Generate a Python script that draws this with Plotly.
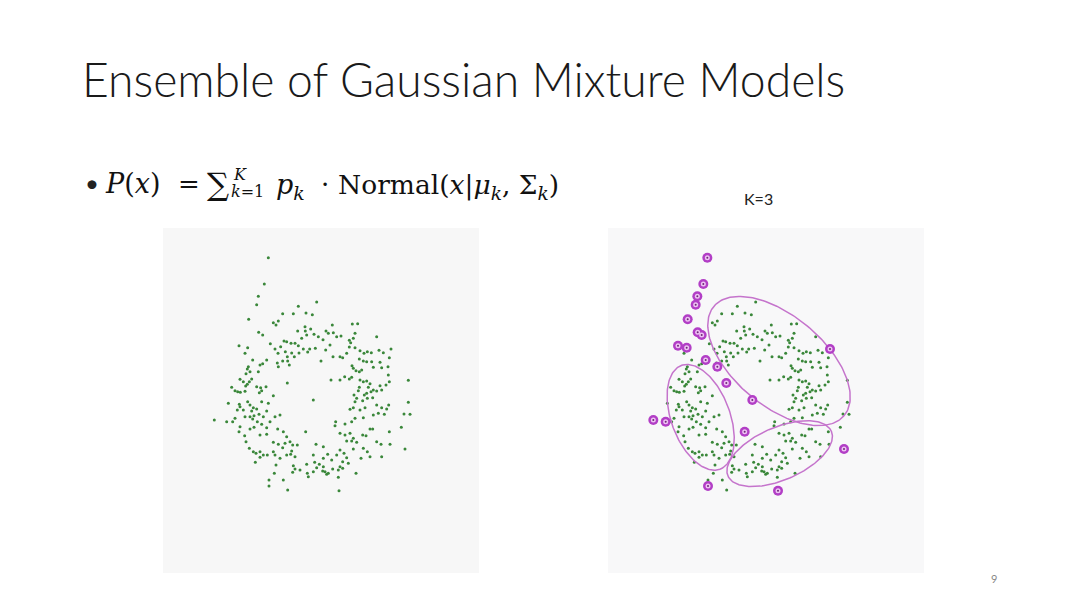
import numpy as np
import plotly.graph_objects as go

# ring-shaped point cloud (arbitrary units, y grows downwards)
ring_pts = [
    (415,244),(470,231),(368,266),(400,266),(438,264),(457,269),(355,288),(340,293),(348,300),(517,300),(577,297),(593,296),
    (413,318),(435,305),(436,318),(452,312),(462,328),(440,330),(425,340),(475,335),(498,318),(505,325),(520,323),(530,335),
    (543,333),(568,346),(585,325),(580,340),(650,335),(572,353),(489,344),(510,360),(497,375),(372,348),(380,350),(393,355),
    (405,355),(415,362),(331,356),(362,365),(345,372),(354,385),(255,385),
    (430,372),(449,372),(466,370),(417,384),(443,381),(395,384),(376,380),(403,395),(382,395),(368,408),(383,408),(388,420),
    (352,414),(300,420),(308,416),(278,405),(265,425),(262,432),(270,440),(258,446),(295,440),(540,395),(548,398),(560,385),
    (568,366),(585,368),(600,377),(612,385),(622,380),(634,383),(657,376),(670,383),(598,402),(610,408),(620,410),(635,410),
    (660,412),(688,398),(483,408),(519,395),(576,422),(580,430),(588,437),(598,440),(605,435),(640,427),(665,428),(684,425),
    (240,463),(250,470),(262,478),(257,483),(275,462),(268,470),(290,485),(302,488),(318,485),(215,487),(225,497),(233,500),
    (241,502),(255,499),(298,503),(305,497),(540,465),(554,455),(568,462),(575,457),(600,465),(610,470),(620,468),(630,476),
    (640,495),(650,498),(633,500),(660,482),(665,495),(678,480),(688,470),(685,450),(745,466),(513,465),(598,487),(625,487),
    (620,505),(595,497),(582,510),(590,520),
    (238,538),(240,545),(263,530),(270,540),(280,548),(290,552),(275,558),(250,555),(232,555),(205,535),(218,590),(225,580),
    (255,575),(270,575),(282,572),(297,568),(320,558),(310,575),(330,590),(345,575),(360,570),(340,512),(325,535),(305,530),
    (613,510),(622,520),(608,527),(585,530),(580,548),(600,555),(615,548),(650,540),(665,548),(680,552),(686,540),(638,518),
    (745,532),(732,567),(750,568),(673,568),(655,565),(570,553),
    (278,582),(292,590),(305,598),(320,608),(282,607),(270,612),(240,605),(237,620),(254,632),(300,630),(320,628),(353,612),
    (370,620),(380,635),(340,652),(355,658),(375,655),(390,650),(398,660),(412,660),(395,678),(368,668),(527,590),(525,602),
    (555,597),(575,590),(585,580),(610,578),(640,570),(540,625),(555,630),(570,625),(580,640),(575,648),(560,648),(590,652),
    (608,630),(618,632),(630,612),(638,612),(650,650),(663,658),(688,620),(690,658),(724,607),
    (258,650),(268,670),(280,680),(288,685),(300,680),(310,690),(300,697),(322,690),(340,680),(345,690),(360,700),(380,690),
    (392,688),(405,695),(286,712),(348,720),(460,690),(468,658),(490,665),(503,688),(490,700),(515,705),(530,690),(540,675),
    (552,685),(560,698),(548,710),(565,715),(580,672),(610,670),(622,680),(630,695),(603,700),(665,695),(464,712),(478,718),
    (470,728),
    (400,722),(405,732),(398,742),(420,735),(440,718),(442,745),(445,755),(460,740),(490,725),(495,740),(500,748),(488,738),
    (505,745),(518,732),(535,735),(540,725),(548,730),(535,757),(588,745),(343,745),(370,765),(327,765),(383,795),
]

# points the K=3 mixture leaves outside its components
outlier_pts = [
    (325,98),(313,177),(295,214),(290,239),(266,283),(296,322),(308,330),(237,362),(263,368),(320,405),
    (355,425),(382,474),(460,525),(163,585),(200,590),(437,620),(327,783),(537,797),(693,372),(735,672),
]

# fitted components: centre, semi axes, tilt (degrees)
ell_cx = [540, 305, 542]
ell_cy = [408, 577, 686]
ell_a = [255, 166, 169]
ell_b = [135, 88, 79]
ell_angle = [40, 69.6, -23.4]

rx, ry = zip(*ring_pts)
ox, oy = zip(*outlier_pts)

W, H = 1080, 607
GREEN = "#3a873a"
MAG = "#b23ec6"

fig = go.Figure()

# left panel: all points
fig.add_trace(go.Scatter(x=rx + ox, y=ry + oy, mode="markers", xaxis="x", yaxis="y",
                         marker=dict(size=3, color=GREEN), hoverinfo="skip"))

# right panel: inliers, ellipses, outliers
fig.add_trace(go.Scatter(x=rx, y=ry, mode="markers", xaxis="x2", yaxis="y2",
                         marker=dict(size=3, color=GREEN), hoverinfo="skip"))

t = np.linspace(0, 2 * np.pi, 200)
for cx, cy, a, b, ang in zip(ell_cx, ell_cy, ell_a, ell_b, ell_angle):
    th = np.radians(ang)
    ex = cx + a * np.cos(t) * np.cos(th) - b * np.sin(t) * np.sin(th)
    ey = cy + a * np.cos(t) * np.sin(th) + b * np.sin(t) * np.cos(th)
    fig.add_trace(go.Scatter(x=ex, y=ey, mode="lines", xaxis="x2", yaxis="y2",
                             line=dict(color="#c574cc", width=1.5), hoverinfo="skip"))

fig.add_trace(go.Scatter(x=ox, y=oy, mode="markers", xaxis="x2", yaxis="y2",
                         marker=dict(size=10, color=MAG), hoverinfo="skip"))
fig.add_trace(go.Scatter(x=ox, y=oy, mode="markers", xaxis="x2", yaxis="y2",
                         marker=dict(size=5, color="#eec3f3"), hoverinfo="skip"))
fig.add_trace(go.Scatter(x=ox, y=oy, mode="markers", xaxis="x2", yaxis="y2",
                         marker=dict(size=2, color="#6d2a78"), hoverinfo="skip"))


def px(x):
    return x / W


def py(y):
    return 1 - y / H


ax = dict(range=[0, 960], visible=False, fixedrange=True)
ay = dict(range=[1050, 0], visible=False, fixedrange=True)

fig.update_layout(
    width=W, height=H,
    margin=dict(l=0, r=0, t=0, b=0),
    paper_bgcolor="white",
    plot_bgcolor="rgba(0,0,0,0)",
    showlegend=False,
    xaxis=dict(ax, domain=[px(160), px(480)]),
    yaxis=dict(ay, domain=[py(575), py(225)]),
    xaxis2=dict(ax, domain=[px(599), px(919)], anchor="y2"),
    yaxis2=dict(ay, domain=[py(575), py(225)], anchor="x2"),
    shapes=[
        dict(type="rect", xref="paper", yref="paper", x0=px(163), x1=px(479), y0=py(573), y1=py(228),
             fillcolor="#f7f7f7", line_width=0, layer="below"),
        dict(type="rect", xref="paper", yref="paper", x0=px(608), x1=px(924), y0=py(573), y1=py(228),
             fillcolor="#f8f8f9", line_width=0, layer="below"),
    ],
)

serif = "DejaVu Serif, Liberation Serif, serif"
ink = "#111111"
notes = [
    dict(text="Ensemble of Gaussian Mixture Models", x=80, y=79,
         font=dict(family="Lato, Open Sans, sans-serif", size=46.3, color="#1a1a1a", weight=300)),
    dict(text="•", x=83, y=183, font=dict(family="Lato, sans-serif", size=24, color="#222")),
    dict(text="<i>P</i>(<i>x</i>)", x=103, y=184, font=dict(family=serif, size=27, color=ink)),
    dict(text="=", x=176, y=184, font=dict(family=serif, size=26, color=ink)),
    dict(text="∑", x=205, y=184, font=dict(family=serif, size=31, color=ink)),
    dict(text="<i>K</i>", x=231, y=174, font=dict(family=serif, size=16, color=ink)),
    dict(text="<i>k</i>=1", x=229, y=192, font=dict(family=serif, size=16, color=ink)),
    dict(text="<i>p</i><sub><i>k</i></sub>", x=274, y=186, font=dict(family=serif, size=27, color=ink)),
    dict(text="·", x=319, y=184, font=dict(family=serif, size=26, color=ink)),
    dict(text="Normal(<i>x</i>|<i>μ</i><sub><i>k</i></sub>, Σ<sub><i>k</i></sub>)",
         x=336, y=186, font=dict(family=serif, size=26.5, color=ink)),
    dict(text="K=3", x=742, y=199, font=dict(family="Lato, sans-serif", size=16, color="#222")),
    dict(text="9", x=989, y=578, font=dict(family="Lato, sans-serif", size=11, color="#888")),
]
for n in notes:
    n["x"] = px(n["x"])
    n["y"] = py(n["y"])
    fig.add_annotation(xref="paper", yref="paper", xanchor="left", yanchor="middle",
                       showarrow=False, **n)

fig.write_html("out.html", config={"displayModeBar": False},
               post_script="document.body.style.margin = '0';")
